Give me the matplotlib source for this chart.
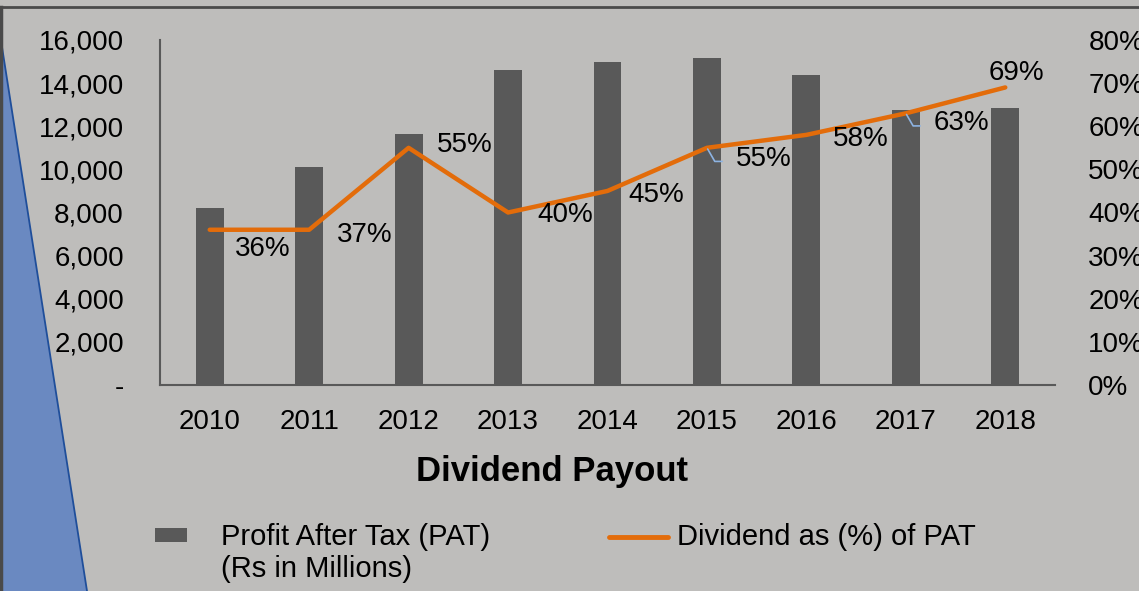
import matplotlib
matplotlib.use("Agg")
import matplotlib.pyplot as plt
from matplotlib.patches import Polygon, Rectangle
from matplotlib.lines import Line2D
from matplotlib.ticker import FuncFormatter

plt.rcParams['font.family'] = ['Liberation Sans', 'DejaVu Sans']

years = ['2010', '2011', '2012', '2013', '2014', '2015', '2016', '2017', '2018']
pat = [8200, 10100, 11650, 14600, 15000, 15150, 14400, 12750, 12850]
payout = [0.36, 0.36, 0.55, 0.40, 0.45, 0.55, 0.58, 0.63, 0.69]
payout_labels = ['36%', '37%', '55%', '40%', '45%', '55%', '58%', '63%', '69%']
label_offsets = [(53, -19), (56, -5), (56, 3), (57, -3), (49, -4), (57, -11), (54, -4), (56, -10), (11, 14)]
leader = [False, False, False, False, False, True, False, True, False]

BG = '#BEBDBB'
BAR = '#595959'
ORANGE = '#E36C0A'
W, H = 1139, 591
FS = 20

fig = plt.figure(figsize=(W / 100, H / 100), dpi=100, facecolor=BG)

# decorative blue shape and border
fig.patches.append(Polygon([(0, 1 - 47 / H), (2 / W, 1 - 47 / H), (87 / W, 0), (0, 0)],
                           closed=True, transform=fig.transFigure, facecolor='#6A89C1',
                           edgecolor='none', zorder=0))
fig.add_artist(Line2D([2 / W, 87 / W], [1 - 47 / H, 0], transform=fig.transFigure,
                      color='#1F4E9A', lw=1.3))
fig.add_artist(Line2D([0, 1], [1 - 7 / H, 1 - 7 / H], transform=fig.transFigure,
                      color='#4A4A4A', lw=2))
fig.add_artist(Line2D([1 / W, 1 / W], [0, 1 - 7 / H], transform=fig.transFigure,
                      color='#4A4A4A', lw=2.5))

ax = fig.add_axes([160 / W, 206 / H, 895 / W, 345 / H])
ax.set_facecolor('none')
x = list(range(len(years)))
ax.bar(x, pat, width=0.28, color=BAR, zorder=2)
ax.set_xlim(-0.5, len(years) - 0.5)
ax.set_ylim(0, 16000)
ax.set_yticks(range(0, 16001, 2000))
ax.yaxis.set_major_formatter(FuncFormatter(lambda v, p: '-' if v == 0 else f'{v:,.0f}'))
ax.set_xticks(x)
ax.set_xticklabels(years)
for s in ['top', 'right']:
    ax.spines[s].set_visible(False)
for s in ['left', 'bottom']:
    ax.spines[s].set_color('#595959')
    ax.spines[s].set_linewidth(1.5)
ax.tick_params(axis='y', length=0, pad=26, labelsize=FS)
ax.tick_params(axis='x', length=0, pad=17, labelsize=FS)

ax2 = ax.twinx()
ax2.set_ylim(0, 0.8)
ax2.set_yticks([i / 10 for i in range(9)])
ax2.yaxis.set_major_formatter(FuncFormatter(lambda v, p: f'{v * 100:.0f}%'))
for s in ax2.spines.values():
    s.set_visible(False)
ax2.tick_params(axis='y', length=0, pad=24, labelsize=FS)
ax2.plot(x, payout, color=ORANGE, lw=3.2, solid_capstyle='round', solid_joinstyle='round', zorder=3)

for xi, yi, lab, off, ld in zip(x, payout, payout_labels, label_offsets, leader):
    kw = {}
    if ld:
        kw['arrowprops'] = dict(arrowstyle='-', color='#8DB3E2', lw=1.2,
                                connectionstyle='angle,angleA=0,angleB=120,rad=0',
                                shrinkA=8, shrinkB=1, relpos=(0, 0.4))
    ax2.annotate(lab, (xi, yi), xytext=off, textcoords='offset pixels',
                 ha='center', va='center', fontsize=FS, color='black', zorder=4, **kw)

fig.text(552 / W, 1 - 472 / H, 'Dividend Payout', ha='center', va='center',
         fontsize=25, fontweight='bold')

# legend
fig.patches.append(Rectangle((155 / W, 1 - 542 / H), 32 / W, 14 / H, transform=fig.transFigure,
                             facecolor=BAR, edgecolor='none'))
fig.text(221 / W, 1 - 537 / H, 'Profit After Tax (PAT)', ha='left', va='center', fontsize=21)
fig.text(221 / W, 1 - 569 / H, '(Rs in Millions)', ha='left', va='center', fontsize=21)
fig.add_artist(Line2D([609 / W, 668 / W], [1 - 537 / H, 1 - 537 / H], transform=fig.transFigure,
                      color=ORANGE, lw=3.5, solid_capstyle='round'))
fig.text(677 / W, 1 - 537 / H, 'Dividend as (%) of PAT', ha='left', va='center', fontsize=21)

fig.savefig('out.png', dpi=100, facecolor=BG)
